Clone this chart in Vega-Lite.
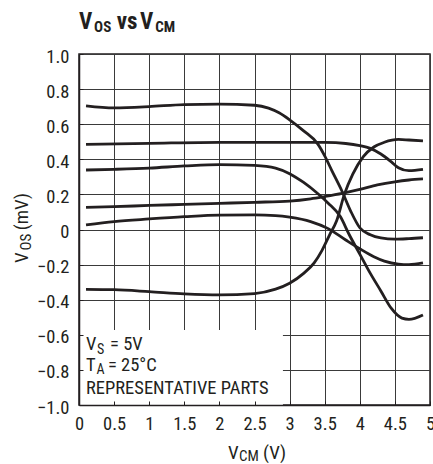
{
  "$schema": "https://vega.github.io/schema/vega-lite/v6.json",
  "width": 351,
  "height": 351,
  "autosize": {"type": "none"},
  "padding": {"left": 79, "top": 54, "right": 3, "bottom": 59},
  "background": "white",
  "config": {
    "view": {"stroke": "#231f20", "strokeWidth": 1.5},
    "font": "Roboto Condensed, Roboto, sans-serif",
    "text": {"font": "Roboto Condensed, Roboto, sans-serif", "color": "#231f20", "align": "left", "baseline": "alphabetic"}
  },
  "layer": [
    {
      "data": {"values": [{"box": "legend"}]},
      "mark": {"type": "rect", "color": "white"},
      "encoding": {
        "x": {"datum": 0, "type": "quantitative", "scale": {"domain": [0, 5]},
          "axis": {"orient": "top", "grid": true, "gridColor": "#3a3a3a", "gridWidth": 1, "labels": false, "ticks": false, "domain": false, "title": null, "values": [0, 0.5, 1, 1.5, 2, 2.5, 3, 3.5, 4, 4.5, 5], "zindex": 0}},
        "x2": {"datum": 2.905},
        "y": {"datum": -1, "type": "quantitative", "scale": {"domain": [-1, 1]},
          "axis": {"orient": "right", "grid": true, "gridColor": "#3a3a3a", "gridWidth": 1, "labels": false, "ticks": false, "domain": false, "title": null, "values": [-1, -0.8, -0.6, -0.4, -0.2, 0, 0.2, 0.4, 0.6, 0.8, 1], "zindex": 0}},
        "y2": {"datum": -0.573}
      }
    },
    {
      "data": {"values": [
        {"part": "A", "vcm": 0.1, "vos": 0.705}, {"part": "A", "vcm": 0.5, "vos": 0.693}, {"part": "A", "vcm": 1.0, "vos": 0.700}, {"part": "A", "vcm": 1.5, "vos": 0.712}, {"part": "A", "vcm": 2.0, "vos": 0.714}, {"part": "A", "vcm": 2.5, "vos": 0.708}, {"part": "A", "vcm": 2.7, "vos": 0.692}, {"part": "A", "vcm": 2.85, "vos": 0.665}, {"part": "A", "vcm": 3.0, "vos": 0.625}, {"part": "A", "vcm": 3.2, "vos": 0.562}, {"part": "A", "vcm": 3.4, "vos": 0.488}, {"part": "A", "vcm": 3.5, "vos": 0.420}, {"part": "A", "vcm": 3.6, "vos": 0.337}, {"part": "A", "vcm": 3.75, "vos": 0.215}, {"part": "A", "vcm": 3.87, "vos": 0.105}, {"part": "A", "vcm": 4.0, "vos": 0.010}, {"part": "A", "vcm": 4.15, "vos": -0.030}, {"part": "A", "vcm": 4.3, "vos": -0.048}, {"part": "A", "vcm": 4.5, "vos": -0.055}, {"part": "A", "vcm": 4.7, "vos": -0.052}, {"part": "A", "vcm": 4.9, "vos": -0.047},
        {"part": "B", "vcm": 0.1, "vos": 0.485}, {"part": "B", "vcm": 1.0, "vos": 0.491}, {"part": "B", "vcm": 2.0, "vos": 0.497}, {"part": "B", "vcm": 3.0, "vos": 0.497}, {"part": "B", "vcm": 3.5, "vos": 0.496}, {"part": "B", "vcm": 3.8, "vos": 0.490}, {"part": "B", "vcm": 4.0, "vos": 0.478}, {"part": "B", "vcm": 4.15, "vos": 0.462}, {"part": "B", "vcm": 4.3, "vos": 0.430}, {"part": "B", "vcm": 4.45, "vos": 0.385}, {"part": "B", "vcm": 4.55, "vos": 0.352}, {"part": "B", "vcm": 4.7, "vos": 0.335}, {"part": "B", "vcm": 4.9, "vos": 0.343},
        {"part": "C", "vcm": 0.1, "vos": 0.339}, {"part": "C", "vcm": 0.5, "vos": 0.343}, {"part": "C", "vcm": 1.0, "vos": 0.350}, {"part": "C", "vcm": 1.5, "vos": 0.362}, {"part": "C", "vcm": 2.0, "vos": 0.370}, {"part": "C", "vcm": 2.5, "vos": 0.365}, {"part": "C", "vcm": 2.8, "vos": 0.350}, {"part": "C", "vcm": 3.0, "vos": 0.318}, {"part": "C", "vcm": 3.2, "vos": 0.268}, {"part": "C", "vcm": 3.4, "vos": 0.205}, {"part": "C", "vcm": 3.55, "vos": 0.150}, {"part": "C", "vcm": 3.72, "vos": 0.075}, {"part": "C", "vcm": 3.85, "vos": -0.030}, {"part": "C", "vcm": 4.0, "vos": -0.140}, {"part": "C", "vcm": 4.15, "vos": -0.250}, {"part": "C", "vcm": 4.3, "vos": -0.350}, {"part": "C", "vcm": 4.45, "vos": -0.450}, {"part": "C", "vcm": 4.6, "vos": -0.505}, {"part": "C", "vcm": 4.7, "vos": -0.512}, {"part": "C", "vcm": 4.9, "vos": -0.487},
        {"part": "D", "vcm": 0.1, "vos": 0.026}, {"part": "D", "vcm": 0.5, "vos": 0.045}, {"part": "D", "vcm": 1.0, "vos": 0.060}, {"part": "D", "vcm": 1.5, "vos": 0.073}, {"part": "D", "vcm": 2.0, "vos": 0.082}, {"part": "D", "vcm": 2.5, "vos": 0.083}, {"part": "D", "vcm": 2.8, "vos": 0.079}, {"part": "D", "vcm": 3.0, "vos": 0.070}, {"part": "D", "vcm": 3.3, "vos": 0.045}, {"part": "D", "vcm": 3.55, "vos": 0.005}, {"part": "D", "vcm": 3.8, "vos": -0.060}, {"part": "D", "vcm": 4.0, "vos": -0.110}, {"part": "D", "vcm": 4.2, "vos": -0.155}, {"part": "D", "vcm": 4.35, "vos": -0.180}, {"part": "D", "vcm": 4.55, "vos": -0.197}, {"part": "D", "vcm": 4.7, "vos": -0.200}, {"part": "D", "vcm": 4.9, "vos": -0.190},
        {"part": "E", "vcm": 0.1, "vos": 0.126}, {"part": "E", "vcm": 0.5, "vos": 0.130}, {"part": "E", "vcm": 1.0, "vos": 0.137}, {"part": "E", "vcm": 1.5, "vos": 0.143}, {"part": "E", "vcm": 2.0, "vos": 0.149}, {"part": "E", "vcm": 2.5, "vos": 0.155}, {"part": "E", "vcm": 3.0, "vos": 0.162}, {"part": "E", "vcm": 3.3, "vos": 0.175}, {"part": "E", "vcm": 3.5, "vos": 0.188}, {"part": "E", "vcm": 3.75, "vos": 0.206}, {"part": "E", "vcm": 4.0, "vos": 0.228}, {"part": "E", "vcm": 4.25, "vos": 0.254}, {"part": "E", "vcm": 4.5, "vos": 0.272}, {"part": "E", "vcm": 4.7, "vos": 0.282}, {"part": "E", "vcm": 4.9, "vos": 0.288},
        {"part": "F", "vcm": 0.1, "vos": -0.341}, {"part": "F", "vcm": 0.5, "vos": -0.343}, {"part": "F", "vcm": 1.0, "vos": -0.354}, {"part": "F", "vcm": 1.5, "vos": -0.367}, {"part": "F", "vcm": 2.0, "vos": -0.373}, {"part": "F", "vcm": 2.5, "vos": -0.365}, {"part": "F", "vcm": 2.8, "vos": -0.340}, {"part": "F", "vcm": 3.0, "vos": -0.306}, {"part": "F", "vcm": 3.2, "vos": -0.250}, {"part": "F", "vcm": 3.35, "vos": -0.190}, {"part": "F", "vcm": 3.46, "vos": -0.120}, {"part": "F", "vcm": 3.57, "vos": -0.030}, {"part": "F", "vcm": 3.67, "vos": 0.050}, {"part": "F", "vcm": 3.78, "vos": 0.200}, {"part": "F", "vcm": 3.9, "vos": 0.315}, {"part": "F", "vcm": 4.05, "vos": 0.415}, {"part": "F", "vcm": 4.2, "vos": 0.470}, {"part": "F", "vcm": 4.35, "vos": 0.497}, {"part": "F", "vcm": 4.55, "vos": 0.513}, {"part": "F", "vcm": 4.7, "vos": 0.510}, {"part": "F", "vcm": 4.9, "vos": 0.505}
      ]},
      "mark": {"type": "line", "color": "#231f20", "strokeWidth": 2.8, "interpolate": "monotone", "strokeCap": "butt"},
      "encoding": {
        "x": {"field": "vcm", "type": "quantitative", "scale": {"domain": [0, 5]},
          "axis": {"orient": "bottom", "grid": false, "title": null, "values": [0, 0.5, 1, 1.5, 2, 2.5, 3, 3.5, 4, 4.5, 5], "format": "~g", "tickSize": -4, "tickColor": "#231f20", "tickWidth": 1, "domainColor": "#231f20", "domainWidth": 1.5, "labelFont": "Roboto Condensed, Roboto, sans-serif", "labelFontSize": 18.5, "labelColor": "#231f20", "labelPadding": 13, "labelFlush": false, "labelOverlap": false, "zindex": 1}},
        "y": {"field": "vos", "type": "quantitative", "scale": {"domain": [-1, 1]},
          "axis": {"orient": "left", "grid": false, "title": null, "values": [-1, -0.8, -0.6, -0.4, -0.2, 0, 0.2, 0.4, 0.6, 0.8, 1], "labelExpr": "datum.value == 0 ? '0' : replace(format(datum.value, '.1f'), '-', '\u2212')", "tickSize": -4, "tickColor": "#231f20", "tickWidth": 1, "domainColor": "#231f20", "domainWidth": 1.5, "labelFont": "Roboto Condensed, Roboto, sans-serif", "labelFontSize": 18.5, "labelColor": "#231f20", "labelPadding": 14, "labelBaseline": "middle", "labelOffset": 2, "labelFlush": false, "labelOverlap": false, "zindex": 1}},
        "detail": {"field": "part", "type": "nominal"}
      }
    },
    {"data": {"values": [{"t": "V"}]}, "mark": {"type": "text", "fontSize": 23, "fontWeight": "bold"},
     "encoding": {"x": {"datum": 0, "type": "quantitative", "scale": {"domain": [0, 5]}, "axis": null}, "y": {"datum": 1.1425, "type": "quantitative", "scale": {"domain": [-1, 1]}, "axis": null}, "text": {"field": "t"}}},
    {"data": {"values": [{"t": "OS"}]}, "mark": {"type": "text", "fontSize": 15, "fontWeight": "bold"},
     "encoding": {"x": {"datum": 0.215, "type": "quantitative", "scale": {"domain": [0, 5]}, "axis": null}, "y": {"datum": 1.127, "type": "quantitative", "scale": {"domain": [-1, 1]}, "axis": null}, "text": {"field": "t"}}},
    {"data": {"values": [{"t": "vs"}]}, "mark": {"type": "text", "fontSize": 23, "fontWeight": "bold"},
     "encoding": {"x": {"datum": 0.537, "type": "quantitative", "scale": {"domain": [0, 5]}, "axis": null}, "y": {"datum": 1.1425, "type": "quantitative", "scale": {"domain": [-1, 1]}, "axis": null}, "text": {"field": "t"}}},
    {"data": {"values": [{"t": "V"}]}, "mark": {"type": "text", "fontSize": 23, "fontWeight": "bold"},
     "encoding": {"x": {"datum": 0.869, "type": "quantitative", "scale": {"domain": [0, 5]}, "axis": null}, "y": {"datum": 1.1425, "type": "quantitative", "scale": {"domain": [-1, 1]}, "axis": null}, "text": {"field": "t"}}},
    {"data": {"values": [{"t": "CM"}]}, "mark": {"type": "text", "fontSize": 15, "fontWeight": "bold"},
     "encoding": {"x": {"datum": 1.085, "type": "quantitative", "scale": {"domain": [0, 5]}, "axis": null}, "y": {"datum": 1.127, "type": "quantitative", "scale": {"domain": [-1, 1]}, "axis": null}, "text": {"field": "t"}}},
    {"data": {"values": [{"t": "V"}]}, "mark": {"type": "text", "fontSize": 19, "angle": 270},
     "encoding": {"x": {"datum": -0.7265, "type": "quantitative", "scale": {"domain": [0, 5]}, "axis": null}, "y": {"datum": -0.191, "type": "quantitative", "scale": {"domain": [-1, 1]}, "axis": null}, "text": {"field": "t"}}},
    {"data": {"values": [{"t": "OS"}]}, "mark": {"type": "text", "fontSize": 15, "angle": 270},
     "encoding": {"x": {"datum": -0.684, "type": "quantitative", "scale": {"domain": [0, 5]}, "axis": null}, "y": {"datum": -0.12, "type": "quantitative", "scale": {"domain": [-1, 1]}, "axis": null}, "text": {"field": "t"}}},
    {"data": {"values": [{"t": "(mV)"}]}, "mark": {"type": "text", "fontSize": 19, "angle": 270},
     "encoding": {"x": {"datum": -0.7265, "type": "quantitative", "scale": {"domain": [0, 5]}, "axis": null}, "y": {"datum": -0.004, "type": "quantitative", "scale": {"domain": [-1, 1]}, "axis": null}, "text": {"field": "t"}}},
    {"data": {"values": [{"t": "V"}]}, "mark": {"type": "text", "fontSize": 19},
     "encoding": {"x": {"datum": 2.1225, "type": "quantitative", "scale": {"domain": [0, 5]}, "axis": null}, "y": {"datum": -1.31, "type": "quantitative", "scale": {"domain": [-1, 1]}, "axis": null}, "text": {"field": "t"}}},
    {"data": {"values": [{"t": "CM"}]}, "mark": {"type": "text", "fontSize": 15},
     "encoding": {"x": {"datum": 2.279, "type": "quantitative", "scale": {"domain": [0, 5]}, "axis": null}, "y": {"datum": -1.32, "type": "quantitative", "scale": {"domain": [-1, 1]}, "axis": null}, "text": {"field": "t"}}},
    {"data": {"values": [{"t": "(V)"}]}, "mark": {"type": "text", "fontSize": 19},
     "encoding": {"x": {"datum": 2.621, "type": "quantitative", "scale": {"domain": [0, 5]}, "axis": null}, "y": {"datum": -1.31, "type": "quantitative", "scale": {"domain": [-1, 1]}, "axis": null}, "text": {"field": "t"}}},
    {"data": {"values": [{"t": "V"}]}, "mark": {"type": "text", "fontSize": 18.5},
     "encoding": {"x": {"datum": 0.1, "type": "quantitative", "scale": {"domain": [0, 5]}, "axis": null}, "y": {"datum": -0.687, "type": "quantitative", "scale": {"domain": [-1, 1]}, "axis": null}, "text": {"field": "t"}}},
    {"data": {"values": [{"t": "S"}]}, "mark": {"type": "text", "fontSize": 14},
     "encoding": {"x": {"datum": 0.256, "type": "quantitative", "scale": {"domain": [0, 5]}, "axis": null}, "y": {"datum": -0.707, "type": "quantitative", "scale": {"domain": [-1, 1]}, "axis": null}, "text": {"field": "t"}}},
    {"data": {"values": [{"t": "= 5V"}]}, "mark": {"type": "text", "fontSize": 18.5},
     "encoding": {"x": {"datum": 0.442, "type": "quantitative", "scale": {"domain": [0, 5]}, "axis": null}, "y": {"datum": -0.687, "type": "quantitative", "scale": {"domain": [-1, 1]}, "axis": null}, "text": {"field": "t"}}},
    {"data": {"values": [{"t": "T"}]}, "mark": {"type": "text", "fontSize": 18.5},
     "encoding": {"x": {"datum": 0.1, "type": "quantitative", "scale": {"domain": [0, 5]}, "axis": null}, "y": {"datum": -0.805, "type": "quantitative", "scale": {"domain": [-1, 1]}, "axis": null}, "text": {"field": "t"}}},
    {"data": {"values": [{"t": "A"}]}, "mark": {"type": "text", "fontSize": 14},
     "encoding": {"x": {"datum": 0.25, "type": "quantitative", "scale": {"domain": [0, 5]}, "axis": null}, "y": {"datum": -0.822, "type": "quantitative", "scale": {"domain": [-1, 1]}, "axis": null}, "text": {"field": "t"}}},
    {"data": {"values": [{"t": "= 25°C"}]}, "mark": {"type": "text", "fontSize": 18.5},
     "encoding": {"x": {"datum": 0.413, "type": "quantitative", "scale": {"domain": [0, 5]}, "axis": null}, "y": {"datum": -0.805, "type": "quantitative", "scale": {"domain": [-1, 1]}, "axis": null}, "text": {"field": "t"}}},
    {"data": {"values": [{"t": "REPRESENTATIVE PARTS"}]}, "mark": {"type": "text", "fontSize": 18.5},
     "encoding": {"x": {"datum": 0.1, "type": "quantitative", "scale": {"domain": [0, 5]}, "axis": null}, "y": {"datum": -0.935, "type": "quantitative", "scale": {"domain": [-1, 1]}, "axis": null}, "text": {"field": "t"}}}
  ],
  "resolve": {"axis": {"x": "independent", "y": "independent"}}
}
